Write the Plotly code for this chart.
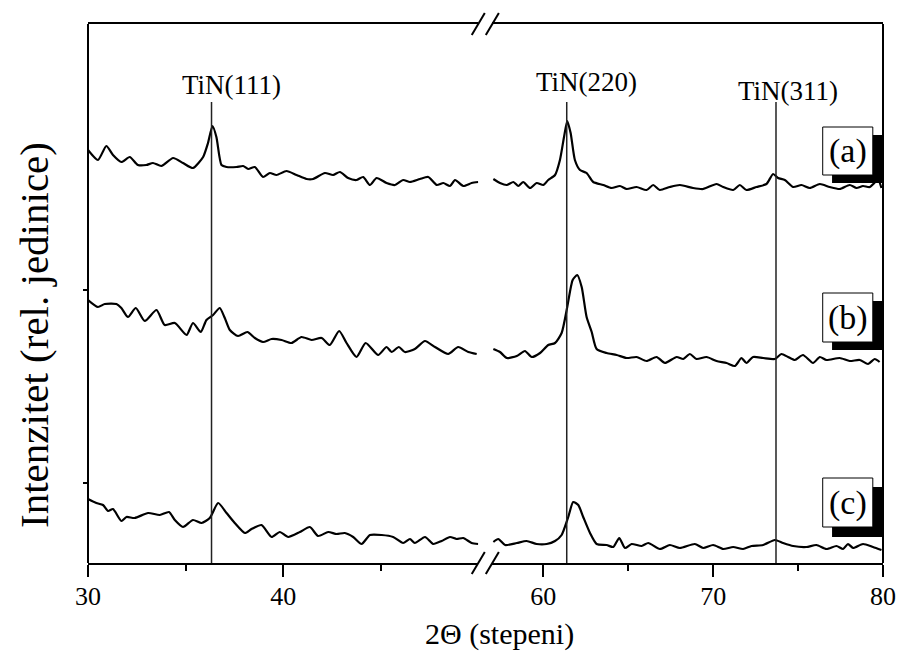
import plotly.graph_objects as go

# ---------------- data (2Θ in degrees, intensity in relative units, curves vertically offset) ----------------
a_left_2theta = [30.00, 30.51, 30.94, 31.28, 31.71, 32.14, 32.56, 32.99, 33.33, 33.76, 34.36, 34.87, 35.38, 35.90,
                 36.15, 36.38, 36.58, 36.84, 37.10, 37.61, 37.95, 38.21, 38.55, 38.97, 39.32, 39.66, 40.17, 40.69,
                 41.20, 41.54, 42.14, 42.56, 42.91, 43.33, 43.76, 44.10, 44.45, 44.79, 45.30, 45.73, 46.15, 46.50,
                 47.01, 47.44, 47.87, 48.21, 48.55, 48.81, 49.23, 49.66, 50.00]
a_left_int = [413, 403, 417, 408, 401, 406, 398, 398, 400, 397, 405, 400, 395, 406,
              420, 437, 426, 398, 396, 396, 397, 394, 396, 386, 390, 388, 392, 388,
              384, 384, 390, 388, 391, 385, 383, 386, 378, 385, 380, 378, 383, 381,
              384, 386, 378, 380, 377, 383, 377, 380, 381]

a_right_2theta = [57.06, 57.45, 57.85, 58.24, 58.53, 58.82, 59.22, 59.61, 60.00, 60.29, 60.69, 60.98, 61.22, 61.41,
                  61.61, 61.86, 62.16, 62.55, 62.94, 63.53, 64.02, 64.51, 64.91, 65.49, 66.08, 66.47, 66.86, 67.45,
                  68.04, 68.82, 69.41, 70.20, 70.59, 71.18, 71.57, 71.96, 72.55, 73.14, 73.53, 73.82, 74.22, 74.71,
                  75.20, 75.69, 76.28, 76.86, 77.45, 78.04, 78.44, 78.82, 79.22, 79.71, 79.91]
a_right_int = [384, 380, 378, 381, 377, 381, 375, 380, 378, 383, 388, 403, 426, 442,
               430, 403, 393, 390, 381, 378, 375, 377, 374, 376, 373, 378, 373, 376,
               378, 375, 374, 379, 376, 373, 378, 373, 376, 379, 389, 385, 383, 376,
               378, 375, 379, 376, 374, 378, 375, 377, 376, 383, 375]

b_left_2theta = [30.00, 30.51, 30.86, 31.46, 31.71, 32.05, 32.45, 32.91, 33.51, 33.93, 34.45, 35.05, 35.38, 35.78,
                 36.07, 36.41, 36.75, 37.01, 37.27, 37.69, 38.17, 38.55, 38.97, 39.41, 39.92, 40.43, 40.94, 41.46,
                 41.97, 42.39, 42.87, 43.25, 43.76, 44.23, 44.87, 45.30, 45.56, 45.93, 46.24, 46.75, 47.27, 47.78,
                 48.46, 48.97, 49.49, 49.92]
b_left_int = [263, 256, 259, 259, 255, 246, 255, 242, 253, 238, 240, 228, 240, 231,
              243, 248, 255, 245, 233, 227, 231, 225, 221, 224, 223, 220, 226, 223,
              225, 218, 232, 220, 206, 220, 208, 216, 211, 216, 211, 214, 222, 216,
              209, 216, 211, 209]

b_right_2theta = [57.06, 57.45, 57.85, 58.44, 58.92, 59.32, 59.81, 60.29, 60.69, 61.08, 61.41, 61.73, 62.00, 62.26,
                  62.55, 62.85, 63.14, 63.73, 64.32, 64.91, 65.49, 66.08, 66.67, 67.16, 67.85, 68.24, 68.63, 69.02,
                  69.61, 70.20, 70.79, 71.28, 71.67, 71.96, 72.35, 72.94, 73.63, 74.02, 74.41, 74.81, 75.29, 75.88,
                  76.28, 76.67, 77.45, 78.04, 78.63, 79.12, 79.51, 79.80]
b_right_int = [214, 211, 205, 207, 212, 206, 210, 218, 220, 230, 256, 283, 288, 276,
               246, 231, 214, 210, 208, 205, 206, 202, 206, 200, 206, 204, 209, 204,
               206, 202, 200, 197, 205, 200, 206, 205, 204, 209, 206, 203, 208, 200,
               206, 203, 205, 202, 203, 199, 204, 201]

c_left_2theta = [30.00, 30.43, 30.77, 31.03, 31.28, 31.71, 31.97, 32.39, 33.08, 33.68, 34.15, 34.45, 34.87, 35.38,
                 35.82, 36.24, 36.67, 37.10, 37.52, 38.04, 38.38, 38.89, 39.41, 39.83, 40.26, 40.86, 41.37, 41.79,
                 42.31, 42.74, 43.16, 43.59, 44.02, 44.45, 45.05, 45.64, 46.15, 46.50, 46.75, 47.27, 47.69, 48.12,
                 48.55, 48.89, 49.23, 49.66, 50.00]
c_left_int = [64, 60, 58, 52, 54, 42, 46, 45, 50, 48, 51, 43, 36, 43,
              40, 45, 60, 50, 40, 30, 34, 38, 26, 31, 26, 31, 36, 27,
              31, 29, 30, 26, 19, 28, 28, 26, 20, 24, 20, 26, 19, 22,
              26, 24, 25, 20, 19]

c_right_2theta = [57.06, 57.35, 57.75, 58.44, 59.02, 59.61, 60.20, 60.69, 61.08, 61.47, 61.76, 62.06, 62.35, 62.75,
                  63.14, 63.73, 64.12, 64.47, 64.81, 65.20, 65.79, 66.18, 66.86, 67.45, 68.04, 68.92, 69.41, 70.00,
                  70.59, 71.18, 71.76, 72.26, 72.94, 73.63, 74.12, 74.71, 75.49, 76.08, 76.67, 77.26, 77.65, 77.94,
                  78.24, 78.82, 79.41, 79.91]
c_right_int = [21, 24, 18, 20, 22, 19, 19, 22, 28, 46, 61, 58, 46, 30,
               19, 18, 16, 25, 15, 19, 17, 20, 14, 18, 15, 19, 15, 18,
               14, 16, 14, 17, 18, 23, 20, 17, 16, 18, 14, 17, 14, 19,
               15, 19, 16, 13]

peak_2theta = [36.33, 61.38, 73.70]
peak_labels = ["TiN(111)", "TiN(220)", "TiN(311)"]
sample_labels = ["(a)", "(b)", "(c)"]

SERIF = "Liberation Serif, Times New Roman, serif"

fig = go.Figure()

curves = [
    (a_left_2theta, a_left_int, a_right_2theta, a_right_int),
    (b_left_2theta, b_left_int, b_right_2theta, b_right_int),
    (c_left_2theta, c_left_int, c_right_2theta, c_right_int),
]
for xl, yl, xr, yr in curves:
    fig.add_trace(go.Scatter(x=xl, y=yl, xaxis="x", yaxis="y", mode="lines",
                             line=dict(color="black", width=2.2, shape="spline", smoothing=0.6),
                             showlegend=False, hoverinfo="skip"))
    fig.add_trace(go.Scatter(x=xr, y=yr, xaxis="x2", yaxis="y", mode="lines",
                             line=dict(color="black", width=2.2, shape="spline", smoothing=0.6),
                             showlegend=False, hoverinfo="skip"))

shapes = []
annotations = []

# peak reference lines and labels
peak_label_x = [37.37, 62.57, 74.39]
peak_label_y = [478, 481, 472]
for p, lab, lx, ly in zip(peak_2theta, peak_labels, peak_label_x, peak_label_y):
    xr = "x" if p < 55 else "x2"
    shapes.append(dict(type="line", xref=xr, yref="y", x0=p, x1=p, y0=0, y1=461,
                       line=dict(color="#222", width=1.5)))
    annotations.append(dict(x=lx, y=ly, xref=xr, yref="y", text=lab, showarrow=False,
                            xanchor="center", yanchor="middle",
                            font=dict(family=SERIF, size=27, color="black")))

# sample label boxes with shadow
box_x = (76.45, 79.40)
shadow_x = (77.0, 80.0)
box_y = [(388, 436), (221, 270), (36, 85)]
shadow_y = [(380, 428), (213, 262), (26, 76)]
for lab, (by0, by1), (sy0, sy1) in zip(sample_labels, box_y, shadow_y):
    shapes.append(dict(type="rect", xref="x2", yref="y", x0=shadow_x[0], x1=shadow_x[1], y0=sy0, y1=sy1,
                       fillcolor="black", line=dict(width=0)))
    shapes.append(dict(type="rect", xref="x2", yref="y", x0=box_x[0], x1=box_x[1], y0=by0, y1=by1,
                       fillcolor="white", line=dict(color="black", width=1)))
    annotations.append(dict(x=(box_x[0] + box_x[1]) / 2, y=(by0 + by1) / 2, xref="x2", yref="y",
                            text=lab, showarrow=False, xanchor="center", yanchor="middle",
                            font=dict(family=SERIF, size=34, color="black")))

# left and right frame borders
for xp in (0, 1):
    shapes.append(dict(type="line", xref="paper", yref="paper", x0=xp, x1=xp, y0=0, y1=1,
                       line=dict(color="black", width=2)))

# axis break marks
dom_left = [0, 0.4909]
dom_right = [0.5086, 1]
dx, dy = 0.0082, 0.0204
for cx in (dom_left[1], dom_right[0]):
    for cy in (0, 1):
        shapes.append(dict(type="line", xref="paper", yref="paper",
                           x0=cx - dx, y0=cy - dy, x1=cx + dx, y1=cy + dy,
                           line=dict(color="black", width=2)))

# axis titles
annotations.append(dict(x=0.517, y=-0.132, xref="paper", yref="paper", text="2Θ (stepeni)",
                        showarrow=False, xanchor="center", yanchor="middle",
                        font=dict(family=SERIF, size=30, color="black")))
annotations.append(dict(x=-0.068, y=0.423, xref="paper", yref="paper", text="Intenzitet (rel. jedinice)",
                        showarrow=False, xanchor="center", yanchor="middle", textangle=-90,
                        font=dict(family=SERIF, size=41, color="black")))

xaxis_common = dict(showline=True, linecolor="black", linewidth=2, mirror=True,
                    ticks="outside", ticklen=12, tickwidth=2, tickcolor="black",
                    showgrid=False, zeroline=False, automargin=False, ticklabelstandoff=-3,
                    tickfont=dict(family=SERIF, size=26, color="black"))

fig.update_layout(
    width=899, height=654,
    margin=dict(l=88, r=16, t=24, b=91, autoexpand=False),
    paper_bgcolor="white", plot_bgcolor="white",
    xaxis=dict(domain=dom_left, range=[30, 50], tickvals=[30, 40], anchor="y",
               minor=dict(tickvals=[35, 45], ticks="outside", ticklen=6, tickwidth=2, tickcolor="black"),
               **xaxis_common),
    xaxis2=dict(domain=dom_right, range=[57, 80], tickvals=[60, 70, 80], anchor="y",
                minor=dict(tickvals=[65, 75], ticks="outside", ticklen=6, tickwidth=2, tickcolor="black"),
                **xaxis_common),
    yaxis=dict(range=[0, 539], showline=False, showgrid=False, zeroline=False, automargin=False,
               ticks="outside", ticklen=4, tickwidth=2, tickcolor="black",
               tickvals=[80, 273], showticklabels=False),
    shapes=shapes,
    annotations=annotations,
    showlegend=False,
)

fig.write_html("out.html")
